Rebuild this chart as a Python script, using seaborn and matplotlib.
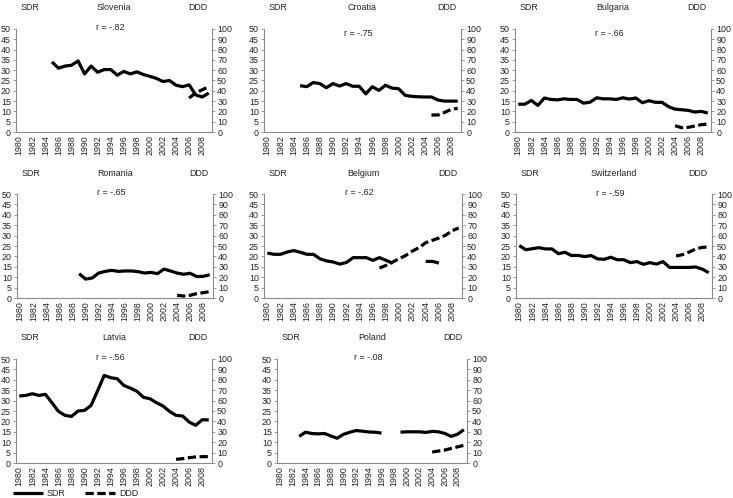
import numpy as np
import pandas as pd
import matplotlib
matplotlib.use("Agg")
import matplotlib.pyplot as plt
from matplotlib.lines import Line2D
import seaborn as sns

sns.set_style("white")
plt.rcParams['font.family'] = ['Liberation Sans', 'DejaVu Sans']

NA = np.nan
years = list(range(1980, 2010))
year_labels = [str(y) for y in range(1980, 2009, 2)]

countries = ["Slovenia", "Croatia", "Bulgaria", "Romania", "Belgium", "Switzerland", "Latvia", "Poland"]
r_labels = ["r = -.82", "r = -.75", "r = -.66", "r = -.65", "r = -.62", "r = -.59", "r = -.56", "r = -.08"]

slovenia_sdr = [NA]*5 + [34, 31, 32, 32.4, 34.5, 28.2, 32, 29, 30.3, 30.3, 27.6, 29.4, 28.2, 29.2, 27.9,
                         27, 26, 24.5, 25, 22.7, 22, 22.9, 18, 17, 18.9]
slovenia_ddd = [NA]*26 + [33, 38, 41, 44]

croatia_sdr = [NA]*5 + [22.5, 22, 24, 23.5, 21.5, 23.5, 22.3, 23.5, 22.2, 22.2, 18.5, 22, 20.2, 22.7, 21.3,
                        21, 17.8, 17.3, 17.1, 17, 17, 15.5, 15, 15, 15]
croatia_ddd = [NA]*25 + [16.5, 16.5, 19, 22, 23]

bulgaria_sdr = [13.5, 13.5, 15.3, 12.9, 16.5, 15.8, 15.6, 16.1, 15.8, 15.8, 14, 14.5, 16.6, 16.1, 16.1,
                15.8, 16.6, 16, 16.5, 14.2, 15.2, 14.4, 14.4, 12.3, 11.1, 10.8, 10.5, 9.7, 10, 9.2]
bulgaria_ddd = [NA]*24 + [6.1, 4.2, 4.5, 5.8, 7.1, 7.7]

romania_sdr = [NA]*9 + [11.7, 9.1, 9.6, 12, 12.8, 13.3, 12.8, 13, 13, 12.7, 12, 12.3, 11.7, 13.9, 13,
                        12, 11.4, 11.9, 10.3, 10.4, 11.2]
romania_ddd = [NA]*24 + [2.6, 1.9, 2.6, 4.2, 5.1, 6.1]

belgium_sdr = [21.6, 21, 21, 22.1, 22.8, 22, 21, 21, 18.8, 17.8, 17.3, 16.3, 17.1, 19.4, 19.4, 19.4,
               18.1, 19.4, 18.1, 16.7] + [NA]*4 + [17.6, 17.6, 16.8] + [NA]*3
belgium_ddd = [NA]*17 + [28.8, 31.4, 34.6, 37.8, 41, 45.2, 48.4, 53.2, 55.4, 57.7, 60.3, 64.7, 67.3]

switzerland_sdr = [25.2, 23.2, 23.7, 24.2, 23.6, 23.6, 21.3, 22, 20.4, 20.5, 19.9, 20.4, 18.8, 18.6, 19.6,
                   18.4, 18.4, 17, 17.5, 16.2, 17, 16.3, 17.5, 14.7, 14.7, 14.7, 14.7, 14.9, 13.9, 12.2]
switzerland_ddd = [NA]*24 + [40.4, 41.7, 44.2, 47.1, 48.7, 49]

latvia_sdr = [32.2, 32.5, 33.3, 32.5, 33, 29, 24.8, 22.9, 22.4, 25, 25.3, 27.7, 34.8, 42.1, 41, 40.5,
              37.3, 36, 34.5, 31.6, 30.9, 29, 27.4, 24.8, 22.9, 22.6, 19.7, 18.1, 20.8, 20.7]
latvia_ddd = [NA]*24 + [3.5, 4.2, 5.1, 5.8, 6.1, 6.1]

poland_sdr = [NA]*3 + [12.8, 14.8, 14.2, 14, 14.2, 13, 11.9, 13.8, 14.8, 15.6, 15.3, 14.9, 14.8, 14.4] + \
             [NA]*2 + [14.8, 15, 15, 15, 14.7, 15.2, 15, 14.2, 12.8, 13.8, 16]
poland_ddd = [NA]*24 + [10.5, 11.5, 12.5, 14, 15.5, 17]

sdr_series = [slovenia_sdr, croatia_sdr, bulgaria_sdr, romania_sdr, belgium_sdr, switzerland_sdr, latvia_sdr, poland_sdr]
ddd_series = [slovenia_ddd, croatia_ddd, bulgaria_ddd, romania_ddd, belgium_ddd, switzerland_ddd, latvia_ddd, poland_ddd]

# panel boxes in pixels: left, right, top, bottom
boxes = [(16, 212, 29, 132), (264, 461, 29, 132), (515, 711, 29, 132),
         (17, 213, 194, 298), (264, 462, 194, 298), (516, 712, 194, 298),
         (16, 212, 359, 463), (277, 467, 359, 463)]
r_offsets = [-1, 4, 4, -2, -2, -1, -2, -2]

W, H = 733, 498
fig = plt.figure(figsize=(W/100, H/100), dpi=100)

FS = 6.4
TXT = '#222222'
AX = '#8a8a8a'
LW = 2.3
DASH = (0, (2.6, 1.1))


def segments(vals):
    df = pd.DataFrame({'year': years, 'v': vals})
    ok = df['v'].notna()
    df['seg'] = (ok != ok.shift()).cumsum()
    return [g for _, g in df[ok].groupby('seg')]


def style_axis(a):
    a.spines['top'].set_visible(False)
    for s in ['left', 'right', 'bottom']:
        a.spines[s].set_color(AX)
        a.spines[s].set_linewidth(0.8)


for i, name in enumerate(countries):
    l, r, t, b = boxes[i]
    ax = fig.add_axes([l/W, 1-b/H, (r-l)/W, (b-t)/H])
    ax2 = ax.twinx()
    ax.set_facecolor('none')
    for g in segments(sdr_series[i]):
        sns.lineplot(data=g, x='year', y='v', ax=ax, color='black', lw=LW, legend=False,
                     solid_capstyle='butt', solid_joinstyle='round')
    for g in segments(ddd_series[i]):
        sns.lineplot(data=g, x='year', y='v', ax=ax2, color='black', lw=LW, legend=False,
                     linestyle=DASH, dash_capstyle='butt')
    ax.set_xlim(1979.5, 2009.5)
    ax.set_ylim(0, 50)
    ax2.set_ylim(0, 100)
    ax.set_yticks(range(0, 51, 5))
    ax2.set_yticks(range(0, 101, 10))
    ax.set_xticks(range(1980, 2009, 2))
    ax.set_xticklabels(year_labels, rotation=90)
    ax.set_xticks(np.arange(1979.5, 2010, 1), minor=True)
    ax.tick_params(axis='x', which='major', length=0, pad=2.5, labelsize=FS, labelcolor=TXT)
    ax.tick_params(axis='x', which='minor', length=2.2, width=0.6, color=AX, direction='out')
    ax.tick_params(axis='y', length=2.2, width=0.6, color=AX, pad=1.5, labelsize=FS, labelcolor=TXT,
                   direction='out')
    ax2.tick_params(axis='y', length=2.2, width=0.6, color=AX, pad=1.5, labelsize=FS, labelcolor=TXT,
                    direction='out')
    ax.set_xlabel('')
    ax.set_ylabel('')
    ax2.set_ylabel('')
    style_axis(ax)
    style_axis(ax2)
    ax2.spines['left'].set_visible(False)
    ax.spines['right'].set_visible(False)
    ax2.spines['bottom'].set_visible(False)

    ty = 1 - (t - 21)/H
    fig.text((l + 14)/W, ty, 'SDR', ha='center', va='center', fontsize=FS, color=TXT)
    fig.text((l + r)/2/W, ty, name, ha='center', va='center', fontsize=FS, color=TXT)
    fig.text((r - 14)/W, ty, 'DDD', ha='center', va='center', fontsize=FS, color=TXT)
    fig.text(((l + r)/2 - 4)/W, 1 - (t + r_offsets[i])/H, r_labels[i], ha='center', va='center',
             fontsize=FS, color=TXT)

handles = [Line2D([], [], color='black', lw=LW, solid_capstyle='butt'),
           Line2D([], [], color='black', lw=LW, linestyle=DASH, dash_capstyle='butt')]
fig.legend(handles, ['SDR', 'DDD'], loc='upper left', bbox_to_anchor=(13/W, 1 - 489/H),
           frameon=False, ncol=2, fontsize=FS, handlelength=3.4, handletextpad=0.4,
           columnspacing=2.2, borderaxespad=0, borderpad=0, labelcolor=TXT)

fig.savefig('out.png', dpi=100)
